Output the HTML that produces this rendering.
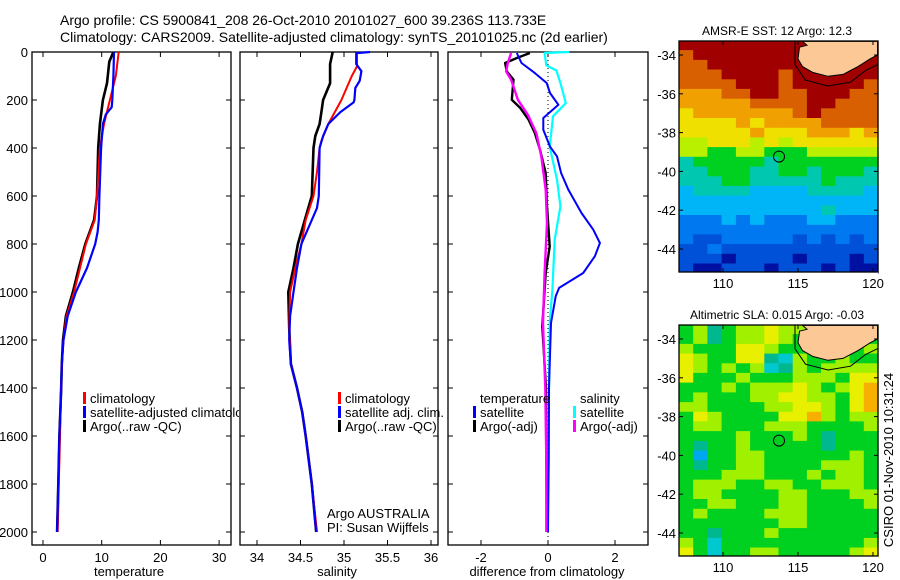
<!DOCTYPE html>
<html><head><meta charset="utf-8"><style>
html,body{margin:0;padding:0;background:#fff;}
svg{display:block;font-family:"Liberation Sans",sans-serif;}
text{font-size:13px;fill:#000;}
</style></head><body>
<svg id="fig" width="900" height="580" viewBox="0 0 900 580" xmlns="http://www.w3.org/2000/svg">
<defs><clipPath id="p1clip"><rect x="32" y="52" width="207" height="493"/></clipPath></defs>
<text x="60" y="25" style="font-size:14px">Argo profile: CS 5900841_208 26-Oct-2010 20101027_600 39.236S 113.733E</text>
<text x="60" y="42" style="font-size:14px">Climatology: CARS2009. Satellite-adjusted climatology: synTS_20101025.nc (2d earlier)</text>
<g id="g"></g>
</svg>
<script>
// ---------- data ----------
const depthTicks = [0,200,400,600,800,1000,1200,1400,1600,1800,2000];
const tempTicks = [0,10,20,30];
const salTicks = [34,34.5,35,35.5,36];
const diffTicks = [-2,0,2];
const lonTicks = [110,115,120];
const latTicks = [-34,-36,-38,-40,-42,-44];

const tArgoD = [0,40,130,200,300,400,600,700,800,900,1000,1100,1200,1300,1400,1600,1800,2000];
const tArgoV = [12.0,11.3,10.9,10.2,9.7,9.4,9.2,8.7,7.2,6.1,5.1,3.9,3.4,3.2,3.1,2.8,2.6,2.4];
const tClimD = [0,100,200,300,400,600,700,800,900,1000,1100,1200,1300,1400,1600,1800,2000];
const tClimV = [12.9,12.4,11.4,10.4,9.7,9.2,8.8,7.3,6.3,5.3,4.0,3.5,3.2,3.1,2.9,2.7,2.5];
const tSatD = [0,100,200,230,260,300,400,600,700,750,800,900,1000,1100,1200,1300,1400,1600,1800,2000];
const tSatV = [12.1,12.0,11.8,11.7,10.7,10.2,9.9,9.6,9.5,9.3,8.9,7.5,5.6,4.2,3.5,3.2,3.1,2.8,2.6,2.4];

const sArgoD = [0,50,130,200,250,300,350,400,600,700,800,900,1000,1150,1300,1400,1500,1600,1800,2000];
const sArgoV = [34.87,34.84,34.84,34.76,34.74,34.72,34.67,34.65,34.63,34.55,34.47,34.42,34.36,34.37,34.39,34.46,34.52,34.56,34.63,34.68];
const sClimD = [0,60,100,200,300,370,400,500,600,700,800,900,1000,1150,1300,1400,1500,1600,1800,2000];
const sClimV = [35.15,35.15,35.09,34.97,34.82,34.74,34.72,34.69,34.65,34.56,34.51,34.44,34.38,34.37,34.39,34.46,34.52,34.56,34.63,34.69];
const sSatD = [0,5,50,80,120,150,200,210,250,300,350,400,600,650,700,800,900,1000,1100,1200,1300,1400,1500,1600,1800,2000];
const sSatV = [35.30,35.14,35.14,35.2,35.18,35.13,35.12,35.11,34.96,34.82,34.76,34.72,34.71,34.69,34.63,34.51,34.46,34.42,34.38,34.37,34.39,34.46,34.52,34.56,34.63,34.68];

const dTSatD = [4,46,88,129,171,220,275,324,394,435,504,574,671,740,796,851,921,983,1018,1129,1400,1700,2000];
const dTSatV = [-0.93,-0.79,-0.39,-0.04,0.06,0.31,-0.14,-0.14,0.06,0.27,0.39,0.61,1.0,1.35,1.55,1.4,1.05,0.33,0.23,0.09,0.03,0.02,0.0];
const dTArgoD = [4,25,46,81,115,199,233,282,338,407,504,643,810,921,1143,1400,1700,2000];
const dTArgoV = [-0.54,-0.93,-1.28,-1.23,-1.03,-1.08,-0.83,-0.58,-0.39,-0.24,-0.07,-0.03,0.05,-0.07,-0.17,-0.06,-0.05,-0.03];
const dSSatD = [0,4,56,77,129,213,268,394,532,643,782,990,1129,1400,1700,2000];
const dSSatV = [0.64,-0.1,-0.05,0.25,0.37,0.53,0.15,0.05,0.27,0.37,0.2,0.13,0.05,0.03,0.02,-0.03];
const dSArgoD = [4,46,81,115,199,262,338,435,574,713,921,1129,1400,1700,2000];
const dSArgoV = [-1.1,-1.2,-1.25,-1.1,-0.9,-0.6,-0.35,-0.2,-0.07,-0.03,-0.1,-0.15,-0.08,-0.05,-0.05];

// map grids: 24 rows (lat -33.5 .. -45.0 step 0.5), 14 cols (lon 107.6 .. 119.8)
const sstRows = ["AAAAAAAAAAAAAA","9AAAAAAAAAAAAA","99AAAAAAAAAAAA","999AAAA9AAAAAA","9999AAA9AAAAA9","88899AA99AAA99","888889999AA999","788888889A9999","77778788889999","77777877788878","66777676777777","66556655566666","45555545555555","44555445545554","44455444445444","34444333344443","33333333333333","33333333334333","22232322233222","22222222222222","21122222121212","11211111111111","11101111011101","10011101110100"];
const slaRows = ["56456676655555","56456676555555","65557765555556","76557743655655","76565634656666","75556555666577","55565666765678","56555667766578","66555566776578","57655557786566","56655566655556","55556555654555","54556555554555","52556655555565","54556655556665","55566655565665","56665566556665","56655556655566","55665556655556","56555566655555","55555556655555","55455565555555","65355555555556","75355665555567"];
const sstColors = {"0":"#0010a0","1":"#0050d8","2":"#0078f0","3":"#00b4f8","4":"#00c8b0","5":"#00d020","6":"#b8f000","7":"#f0e000","8":"#f0a000","9":"#d86000","A":"#a00000"};
const slaColors = {"2":"#00a8f0","3":"#00c8d0","4":"#00b890","5":"#00d020","6":"#a0f000","7":"#e8f000","8":"#f8b000"};
const floatLon = 113.733, floatLat = -39.236;
const landLon = [115.3,115.6,115.1,115.0,115.3,116.0,117.0,118.0,119.0,119.8,120.3,120.3];
const landLat = [-33.3,-33.5,-33.6,-34.2,-34.6,-34.9,-35.1,-35.0,-34.6,-34.2,-34.0,-33.3];
const contLon = [114.8,114.8,115.5,117.0,118.5,119.5,120.3];
const contLat = [-33.3,-34.5,-35.3,-35.6,-35.4,-34.8,-34.5];

// ---------- drawing ----------
const NS="http://www.w3.org/2000/svg";
const G=document.getElementById('g');
function mk(tag,attrs,parent){const e=document.createElementNS(NS,tag);for(const k in attrs)e.setAttribute(k,attrs[k]);(parent||G).appendChild(e);return e;}
const yD = d => 52 + d*0.24;

function panel(x0,x1,name,xf,ticks,labelFn,leftLabels,xlabel,xlabelX){
  const r=mk('rect',{x:x0,y:52,width:x1-x0,height:493,fill:'none',stroke:'#000','stroke-width':1.3});
  
  
  depthTicks.forEach(d=>{
    mk('line',{x1:x0,x2:x0+5,y1:yD(d),y2:yD(d),stroke:'#000'});
    mk('line',{x1:x1,x2:x1-5,y1:yD(d),y2:yD(d),stroke:'#000'});
    if(leftLabels){const t=mk('text',{x:x0-4,y:yD(d)+5,'text-anchor':'end'});t.textContent=d;
      
      }
  });
  ticks.forEach(v=>{
    const x=xf(v);
    mk('line',{x1:x,x2:x,y1:545,y2:540,stroke:'#000'});
    mk('line',{x1:x,x2:x,y1:52,y2:57,stroke:'#000'});
    const t=mk('text',{x:x,y:562,'text-anchor':'middle'});t.textContent=labelFn(v);
    
    
  });
  const xl=mk('text',{x:xlabelX,y:576,'text-anchor':'middle'});xl.textContent=xlabel;
  
  
}
function line(ds,vs,xf,color,w,name){
  const pts=ds.map((d,i)=>xf(vs[i]).toFixed(1)+','+yD(d).toFixed(1)).join(' ');
  const p=mk('polyline',{points:pts,fill:'none',stroke:color,'stroke-width':w,'stroke-linejoin':'round'});
  
  
}
function legend(x,y,color,label,name,clip){
  if(color){mk('rect',{x:x,y:y-11,width:3,height:12,fill:color});}
  const t=mk('text',{x:x+7,y:y});t.textContent=label;
  if(clip)t.setAttribute('clip-path','url(#p1clip)');
  
  
}

// Panel 1 temperature
const xT=v=>43+5.87*v;
panel(32,231,'temperature-panel',xT,tempTicks,v=>v,true,'temperature',129);
line(tArgoD,tArgoV,xT,'#000000',2.6,'temp-argo-line');
line(tClimD,tClimV,xT,'#ff0000',2,'temp-climatology-line');
line(tSatD,tSatV,xT,'#0000ff',2.2,'temp-satellite-line');
legend(83,403,'#ff0000','climatology','temp-legend-climatology',true);
legend(83,417,'#0000ff','satellite-adjusted climatology','temp-legend-satellite',true);
legend(83,431,'#000000','Argo(..raw -QC)','temp-legend-argo',true);

// Panel 2 salinity
const xS=v=>257+87*(v-34);
panel(240,438,'salinity-panel',xS,salTicks,v=>v,false,'salinity',337);
line(sArgoD,sArgoV,xS,'#000000',2.6,'sal-argo-line');
line(sClimD,sClimV,xS,'#ff0000',2,'sal-climatology-line');
line(sSatD,sSatV,xS,'#0000ff',2.2,'sal-satellite-line');
legend(338,403,'#ff0000','climatology','sal-legend-climatology');
legend(338,417,'#0000ff','satellite adj. clim.','sal-legend-satellite');
legend(338,431,'#000000','Argo(..raw -QC)','sal-legend-argo');
{const t=mk('text',{x:327,y:518});t.textContent='Argo AUSTRALIA';


const t2=mk('text',{x:327,y:532});t2.textContent='PI: Susan Wijffels';

}

// Panel 3 differences
const xDf=v=>548+33.5*v;
panel(448,648,'difference-panel',xDf,diffTicks,v=>v,false,'difference from climatology',547);
mk('line',{x1:xDf(0),x2:xDf(0),y1:52,y2:545,stroke:'#000','stroke-dasharray':'1,3'});
line(dTArgoD,dTArgoV,xDf,'#000000',2.4,'diff-temp-argo-line');
line(dSSatD,dSSatV,xDf,'#00ffff',2.2,'diff-sal-satellite-line');
line(dTSatD,dTSatV,xDf,'#0000ff',2,'diff-temp-satellite-line');
line(dSArgoD,dSArgoV,xDf,'#ff00ff',2.4,'diff-sal-argo-line');
legend(473,403,null,'temperature','diff-legend-temperature-heading');
legend(473,417,'#0000ff','satellite','diff-legend-temp-satellite');
legend(473,431,'#000000','Argo(-adj)','diff-legend-temp-argo');
legend(573,403,null,'salinity','diff-legend-salinity-heading');
legend(573,417,'#00ffff','satellite','diff-legend-sal-satellite');
legend(573,431,'#ff00ff','Argo(-adj)','diff-legend-sal-argo');

// Maps
function map(top,rows,colors,title,name){
  const xL=lon=>723+15*(lon-110);
  const yL=lat=>top+14+19.4*(-34-lat);
  const left=679,right=878,bottom=top+231;
  const cw=(right-left)/14;
  rows.forEach((row,r)=>{
    const lat=-33.5-0.5*r;
    [...row].forEach((c,ci)=>{
      const y0=yL(lat+0.25), y1=yL(lat-0.25);
      const cell=mk('rect',{x:(left+ci*cw).toFixed(1),y:y0.toFixed(1),width:(cw+0.6).toFixed(1),height:(y1-y0+0.6).toFixed(1),fill:colors[c]});
      
      
    });
  });
  mk('rect',{x:left,y:top-20,width:right-left,height:20,fill:'#fff'});
  mk('rect',{x:left,y:bottom,width:right-left,height:12,fill:'#fff'});
  const land=mk('polygon',{points:landLon.map((l,i)=>xL(l).toFixed(1)+','+Math.max(top,yL(landLat[i])).toFixed(1)).join(' '),fill:'#fcc896',stroke:'#000','stroke-width':1});
  
  
  mk('polyline',{points:contLon.map((l,i)=>xL(l).toFixed(1)+','+Math.max(top,yL(contLat[i])).toFixed(1)).join(' '),fill:'none',stroke:'#000','stroke-width':1});
  const fr=mk('rect',{x:left,y:top,width:right-left,height:bottom-top,fill:'none',stroke:'#000','stroke-width':1.3});
  
  
  const c=mk('circle',{cx:xL(floatLon),cy:yL(floatLat),r:5.5,fill:'none',stroke:'#000','stroke-width':1});
  
  
  lonTicks.forEach(l=>{const x=xL(l);
    mk('line',{x1:x,x2:x,y1:bottom,y2:bottom-4,stroke:'#000'});
    mk('line',{x1:x,x2:x,y1:top,y2:top+4,stroke:'#000'});
    const t=mk('text',{x:x,y:bottom+16,'text-anchor':'middle'});t.textContent=l;
    
    });
  latTicks.forEach(la=>{const y=yL(la);
    mk('line',{x1:left,x2:left+4,y1:y,y2:y,stroke:'#000'});
    mk('line',{x1:right,x2:right-4,y1:y,y2:y,stroke:'#000'});
    const t=mk('text',{x:left-3,y:y+5,'text-anchor':'end'});t.textContent=la;
    
    });
  const tt=mk('text',{x:777,y:top-6,'text-anchor':'middle',style:'font-size:12px'});tt.textContent=title;
  
  
}
map(41,sstRows,sstColors,'AMSR-E SST: 12 Argo: 12.3','sst-map');
map(325,slaRows,slaColors,'Altimetric SLA: 0.015 Argo: -0.03','sla-map');
{const t=mk('text',{x:0,y:0,transform:'translate(893,460) rotate(-90)','text-anchor':'middle'});
t.textContent='CSIRO 01-Nov-2010 10:31:24';

}
</script>
</body></html>
